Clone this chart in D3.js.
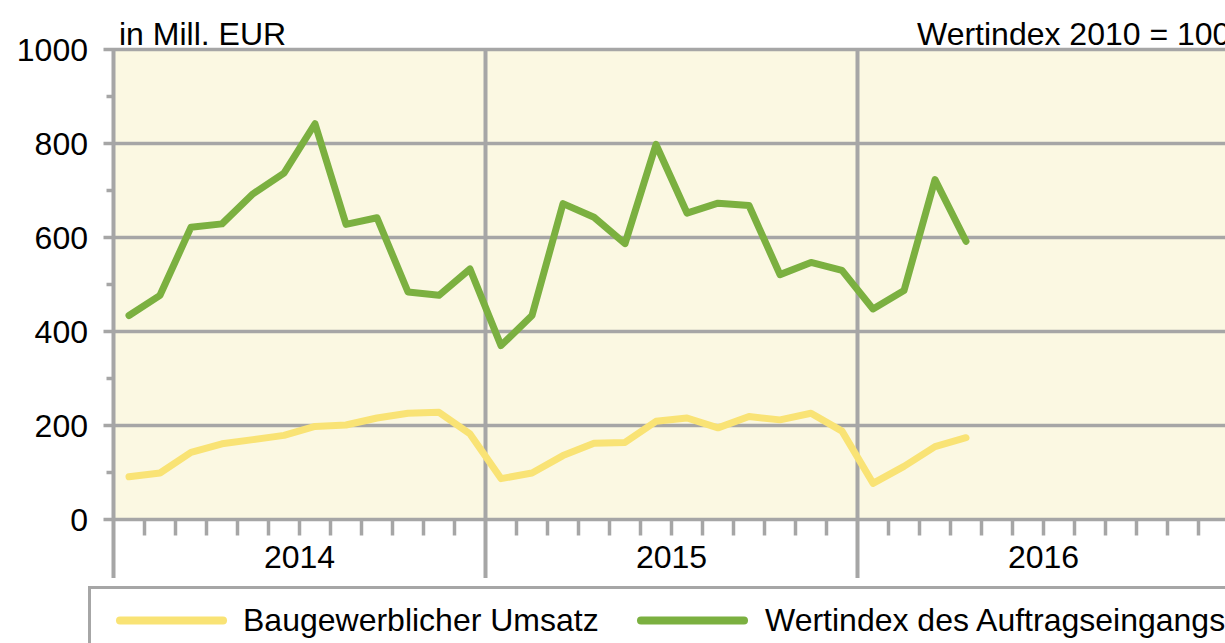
<!DOCTYPE html>
<html>
<head>
  <meta charset="utf-8">
  <title>Baugewerbe Umsatz und Auftragseingang</title>
  <script src="https://d3js.org/d3.v7.min.js"></script>
  <style>
    html, body {
      margin: 0;
      background: #fff;
      overflow: hidden;
    }
    svg {
      display: block;
    }
    text {
      font-family: "Liberation Sans", Arial, sans-serif;
      fill: #000;
    }
  </style>
</head>
<body>
  <svg id="chart" width="1225" height="643"></svg>
  <script>
  // months Jan 2014 .. Apr 2016
  const years = ["2014", "2015", "2016"];
  const umsatz = [91, 99, 143, 161, 170, 179, 198, 201, 216, 226, 228, 182,
                  87, 99, 136, 162, 164, 209, 216, 195, 219, 212, 226, 188,
                  77, 113, 155, 174];
  const auftrag = [434, 477, 622, 629, 693, 737, 842, 628, 642, 484, 477, 533,
                   370, 434, 672, 643, 587, 798, 652, 673, 668, 521, 547, 530,
                   448, 487, 723, 592];
  const yTicks = [0, 200, 400, 600, 800, 1000];
  const yMinor = [100, 300, 500, 700, 900];
  const legendLabels = ["Baugewerblicher Umsatz", "Wertindex des Auftragseingangs"];

  const gray = "#a6a6a6";
  const yellow = "#f9e375";
  const green = "#7bb040";
  const fs = 32;

  const svg = d3.select("#chart");

  const left = 113.5, monthW = 31;
  const x = d3.scaleLinear().domain([0, 36]).range([left, left + 36 * monthW]);
  const y = d3.scaleLinear().domain([0, 1000]).range([519.5, 49.5]);

  // plot background
  svg.append("rect")
    .attr("x", x(0)).attr("y", y(1000))
    .attr("width", x(36) - x(0)).attr("height", y(0) - y(1000))
    .attr("fill", "#fbf8e2");

  // horizontal grid
  svg.append("g")
    .selectAll("line")
    .data(yTicks)
    .join("line")
    .attr("x1", x(0) - 10).attr("x2", x(36))
    .attr("y1", d => y(d)).attr("y2", d => y(d))
    .attr("stroke", gray).attr("stroke-width", 3.5);

  // minor y ticks
  svg.append("g")
    .selectAll("line")
    .data(yMinor)
    .join("line")
    .attr("x1", x(0) - 7).attr("x2", x(0))
    .attr("y1", d => y(d)).attr("y2", d => y(d))
    .attr("stroke", gray).attr("stroke-width", 3.5);

  // month ticks below axis
  svg.append("g")
    .selectAll("line")
    .data(d3.range(1, 36).filter(m => m % 12 !== 0))
    .join("line")
    .attr("x1", d => x(d)).attr("x2", d => x(d))
    .attr("y1", y(0)).attr("y2", y(0) + 16)
    .attr("stroke", gray).attr("stroke-width", 3.5);

  // year separators (and left axis), running below into the label band
  svg.append("g")
    .selectAll("line")
    .data([0, 12, 24])
    .join("line")
    .attr("x1", d => x(d)).attr("x2", d => x(d))
    .attr("y1", y(1000) - 1.5).attr("y2", 578)
    .attr("stroke", gray).attr("stroke-width", 4);

  // y labels
  svg.append("g")
    .selectAll("text")
    .data(yTicks)
    .join("text")
    .attr("x", 88)
    .attr("y", d => y(d) + 11.5)
    .attr("text-anchor", "end")
    .attr("font-size", fs)
    .text(d => d);

  // year labels
  svg.append("g")
    .selectAll("text")
    .data(years)
    .join("text")
    .attr("x", (d, i) => x(i * 12 + 6))
    .attr("y", 568)
    .attr("text-anchor", "middle")
    .attr("font-size", fs)
    .text(d => d);

  svg.append("text")
    .attr("x", 119).attr("y", 45)
    .attr("font-size", fs)
    .text("in Mill. EUR");

  svg.append("text")
    .attr("x", 917).attr("y", 45)
    .attr("font-size", fs)
    .text("Wertindex 2010 = 100");

  // lines
  const line = d3.line()
    .x((d, i) => x(i + 0.5))
    .y(d => y(d));

  svg.append("path")
    .datum(umsatz)
    .attr("d", line)
    .attr("fill", "none")
    .attr("stroke", yellow)
    .attr("stroke-width", 7)
    .attr("stroke-linejoin", "round")
    .attr("stroke-linecap", "round");

  svg.append("path")
    .datum(auftrag)
    .attr("d", line)
    .attr("fill", "none")
    .attr("stroke", green)
    .attr("stroke-width", 7)
    .attr("stroke-linejoin", "round")
    .attr("stroke-linecap", "round");

  // legend
  svg.append("rect")
    .attr("x", 89.5).attr("y", 587.5)
    .attr("width", 1200).attr("height", 100)
    .attr("fill", "#fff")
    .attr("stroke", gray).attr("stroke-width", 3);

  const legendItems = [
    { label: legendLabels[0], color: yellow, x0: 120, tx: 243 },
    { label: legendLabels[1], color: green, x0: 641, tx: 765 }
  ];
  const lg = svg.append("g")
    .selectAll("g")
    .data(legendItems)
    .join("g");
  lg.append("line")
    .attr("x1", d => d.x0).attr("x2", d => d.x0 + 103)
    .attr("y1", 620.5).attr("y2", 620.5)
    .attr("stroke", d => d.color)
    .attr("stroke-width", 8)
    .attr("stroke-linecap", "round");
  lg.append("text")
    .attr("x", d => d.tx).attr("y", 631)
    .attr("font-size", fs)
    .text(d => d.label);
  </script>
</body>
</html>
